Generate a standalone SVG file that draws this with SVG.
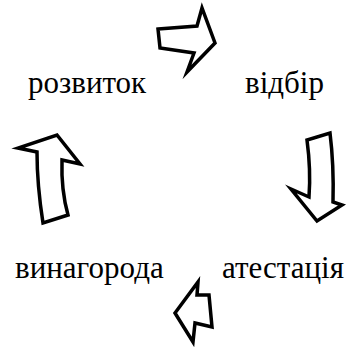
<svg xmlns="http://www.w3.org/2000/svg" width="347" height="347" viewBox="0 0 347 347">
<style>
.arrow{fill:#fff;stroke:#000;stroke-width:3.5;stroke-linejoin:miter;stroke-miterlimit:10}
</style>
<rect width="347" height="347" fill="#fff"/>
<g id="connectors">
<path class="arrow" d="M158,29 L197,26 L202,8 L215,43 L187,72 L194,53 L160,48 Z"/>
<path class="arrow" d="M307,140 Q311,170 309,197 L291,189 L317,221 L342,205 L333,202 Q334,165 330,133 Z"/>
<path class="arrow" d="M198,282 L197,295 L209,295 L212,327 L195,323 L193,342 L175,313 Z"/>
<path class="arrow" d="M43,223 Q37,185 37,152 L18,148 L57,135 L80,164 L62,160 Q61,190 68,215 Z"/>
</g>
<g id="n-rozvytok"><text x="28" y="93" font-family="Liberation Serif, serif" font-size="31">розвиток</text></g>
<g id="n-vidbir"><text x="245" y="93" font-family="Liberation Serif, serif" font-size="31">відбір</text></g>
<g id="n-vynagoroda"><text x="15" y="278" font-family="Liberation Serif, serif" font-size="31">винагорода</text></g>
<g id="n-atestatsiia"><text x="222" y="278" font-family="Liberation Serif, serif" font-size="31">атестація</text></g>
</svg>
